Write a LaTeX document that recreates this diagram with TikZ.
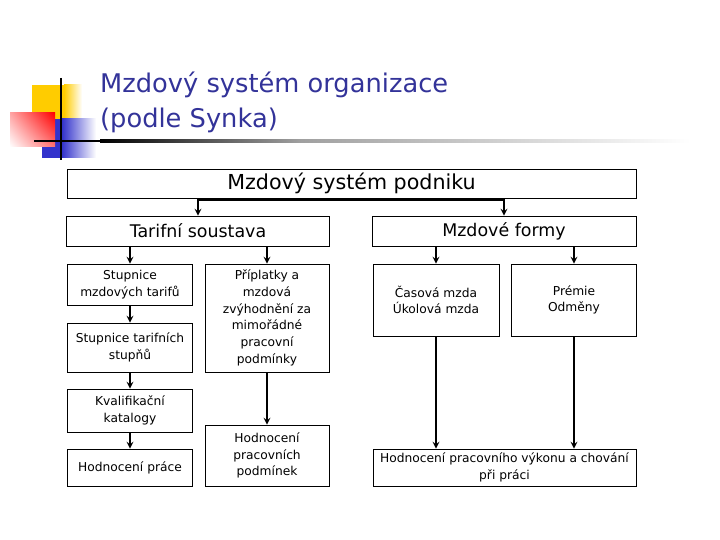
\documentclass[tikz,border=0pt]{standalone}
\usepackage{fontspec}
\setmainfont{DejaVu Sans}
\usepackage{xcolor}
\usepackage{tikz}
\usetikzlibrary{arrows, positioning, calc, shadings}

\definecolor{titleblue}{RGB}{51,51,153}
\definecolor{pixyellow}{RGB}{255,204,0}
\definecolor{pixred}{RGB}{255,0,0}
\definecolor{pixblue}{RGB}{51,51,204}

\begin{document}
\begin{tikzpicture}[
    x=1bp, y=-1bp,
    box/.style={draw, line width=0.8bp, inner sep=2bp, align=center, font=\fontsize{12.3}{16.8}\selectfont},
    headbox/.style={box, font=\fontsize{17.5}{20}\selectfont},
    title/.style={anchor=base west, inner sep=0pt, text=titleblue, font=\fontsize{25.8}{34}\selectfont},
    msg/.style={line width=2bp,->,>=stealth}
]
\useasboundingbox (0,0) rectangle (720,540);

% Pixel decoration
\fill[pixyellow] (32,85) rectangle (64,119);
\shade[left color=pixyellow, right color=white] (64,85) rectangle (82,119);
\fill[pixblue] (42,119) rectangle (62,158);
\shade[left color=pixblue, right color=white] (62,119) rectangle (96,158);
\shade[upper left=red!35, upper right=pixred, lower right=red!55, lower left=white] (10,113) rectangle (55,147);
\fill[black] (34,140) rectangle (100,142.5);
\shade[left color=black, right color=gray!75] (100,140) rectangle (300,142.5);
\shade[left color=gray!75, right color=white] (300,140) rectangle (690,142.5);
\draw[line width=2bp] (61,78) -- (61,160);

% Title
\node[title] (title) at (100,93) {Mzdový systém organizace};
\node[title] (subtitle) at (100,128) {(podle Synka)};

% Boxes
\node[box, minimum width=569bp, minimum height=29bp, font=\fontsize{20.7}{24}\selectfont] (podnik) at (351.5,183.5) {Mzdový systém podniku};
\node[headbox, minimum width=263bp, minimum height=30bp] (tarif) at (198,231) {Tarifní soustava};
\node[headbox, minimum width=264bp, minimum height=30bp] (formy) at (504,231) {Mzdové formy};

\node[box, minimum width=125bp, minimum height=41bp] (stupmzd) at (130,284.5) {Stupnice\\mzdových tarifů};
\node[box, minimum width=125bp, minimum height=49bp] (stuptar) at (130,347.5) {Stupnice tarifních\\stupňů};
\node[box, minimum width=125bp, minimum height=43bp] (kval) at (130,410.5) {Kvalifikační\\katalogy};
\node[box, minimum width=125bp, minimum height=37bp] (hodprace) at (130,467.5) {Hodnocení práce};

\node[box, minimum width=124bp, minimum height=108bp] (priplatky) at (267,318) {Příplatky a\\mzdová\\zvýhodnění za\\mimořádné\\pracovní\\podmínky};
\node[box, minimum width=124bp, minimum height=61bp] (hodpodm) at (267,455.5) {Hodnocení\\pracovních\\podmínek};

\node[box, minimum width=126bp, minimum height=72bp] (casova) at (436,300) {Časová mzda\\Úkolová mzda};
\node[box, minimum width=125bp, minimum height=72bp] (premie) at (574,300) {Prémie\\Odměny};
\node[box, minimum width=263bp, minimum height=37bp] (vykon) at (504.5,467.5) {Hodnocení pracovního výkonu a chování\\při práci};

% Arrows
\coordinate (split) at ($(podnik.south)+(0,2)$);
\draw[msg] (split) -| (tarif.north);
\draw[msg] (split) -| (formy.north);

\draw[msg] (tarif.south -| stupmzd.north) -- (stupmzd.north);
\draw[msg] (tarif.south -| priplatky.north) -- (priplatky.north);
\draw[msg] (formy.south -| casova.north) -- (casova.north);
\draw[msg] (formy.south -| premie.north) -- (premie.north);

\draw[msg] (stupmzd) -- (stuptar);
\draw[msg] (stuptar) -- (kval);
\draw[msg] (kval) -- (hodprace);
\draw[msg] (priplatky) -- (hodpodm);
\draw[msg] (casova.south) -- (vykon.north -| casova.south);
\draw[msg] (premie.south) -- (vykon.north -| premie.south);

\end{tikzpicture}
\end{document}
